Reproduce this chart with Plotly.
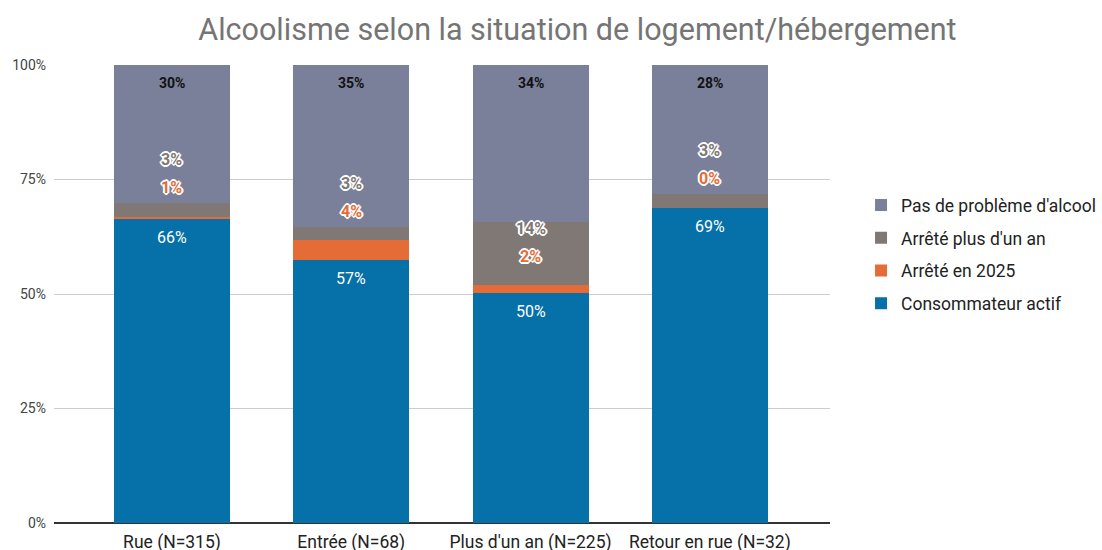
import plotly.graph_objects as go

categories = ["Rue (N=315)", "Entrée (N=68)", "Plus d'un an (N=225)", "Retour en rue (N=32)"]
series_names = ["Consommateur actif", "Arrêté en 2025", "Arrêté plus d'un an", "Pas de problème d'alcool"]
actif = [66.3, 57.4, 50.2, 68.8]
arrete_2025 = [0.6, 4.4, 1.8, 0.0]
arrete_plus = [2.9, 2.9, 13.8, 3.1]
pas_probleme = [30.2, 35.3, 34.2, 28.1]
y_ticks = [0, 25, 50, 75, 100]

colors = ["#0670a8", "#e66c37", "#807875", "#7a8099"]
series = [actif, arrete_2025, arrete_plus, pas_probleme]

fig = go.Figure()
for k, (name, vals, col) in enumerate(zip(series_names, series, colors)):
    fig.add_trace(go.Bar(
        x=categories, y=vals, name=name, marker=dict(color=col, line=dict(width=0)),
        legendgroup=name, legendrank=1000 - k, hoverinfo="skip",
    ))

outline_white = ("1px 1px 0 #fff, -1px -1px 0 #fff, 1px -1px 0 #fff, -1px 1px 0 #fff, "
                 "0 1px 0 #fff, 0 -1px 0 #fff, 1px 0 0 #fff, -1px 0 0 #fff, "
                 "2px 0 0 #fff, -2px 0 0 #fff, 0 2px 0 #fff, 0 -2px 0 #fff")

for i, cat in enumerate(categories):
    a, o, g, p = actif[i], arrete_2025[i], arrete_plus[i], pas_probleme[i]
    fig.add_annotation(x=cat, y=a, text=f"{round(a)}%", showarrow=False, yanchor="top",
                       yshift=-7, font=dict(family="Roboto", size=16, color="#ffffff"))
    fig.add_annotation(x=cat, y=a + o + g + p, text=f"<b>{round(p)}%</b>", showarrow=False,
                       yanchor="top", yshift=-8, font=dict(family="Roboto", size=14, color="#111111"))
    top = a + o + g
    if g > 10:
        oy = a + o + g / 2 - 0.8
    else:
        oy = top + 3.4
    gy = oy + 6.1
    fig.add_annotation(x=cat, y=oy, text=f"<b>{round(o)}%</b>", showarrow=False,
                       font=dict(family="Roboto", size=16, color="#e66c37", shadow=outline_white))
    fig.add_annotation(x=cat, y=gy, text=f"<b>{round(g)}%</b>", showarrow=False,
                       font=dict(family="Roboto", size=16, color="#807875", shadow=outline_white))

fig.update_layout(
    width=1102, height=550,
    barmode="stack", bargap=0.353,
    paper_bgcolor="white", plot_bgcolor="white",
    margin=dict(l=54, r=272, t=65, b=27, autoexpand=False),
    font=dict(family="Roboto", color="#222222"),
    title=dict(text="Alcoolisme selon la situation de logement/hébergement", x=0.524, xref="container",
               xanchor="center", yref="container", y=0.947, yanchor="middle",
               font=dict(family="Roboto", size=30.5, color="#757575")),
    legend=dict(x=1.04, xanchor="left", y=0.587, yanchor="middle",
                tracegroupgap=7, font=dict(family="Roboto", size=17.5, color="#222222")),
    showlegend=True,
)
fig.update_yaxes(range=[0, 100], tickvals=y_ticks, ticktext=[f"{v}%" for v in y_ticks],
                 showgrid=True, gridcolor="#cccccc", gridwidth=1, zeroline=True,
                 zerolinecolor="#333333", zerolinewidth=1.5, automargin=False,
                 tickfont=dict(family="Roboto", size=14, color="#444444"), ticks="",
                 ticklabelstandoff=7)
fig.update_xaxes(range=[-0.658, 3.67], tickfont=dict(family="Roboto", size=17.5, color="#222222"),
                 showline=False, ticks="", automargin=False, ticklabelstandoff=6)

fig.write_html("out.html", config={"displayModeBar": False},
               post_script="document.body.style.margin='0';document.body.style.overflow='hidden';")
